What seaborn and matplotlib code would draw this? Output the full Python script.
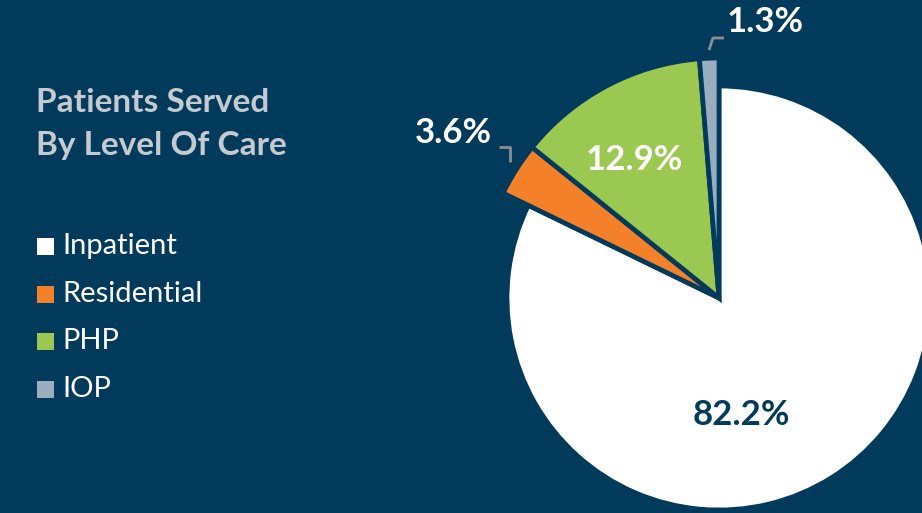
import matplotlib
matplotlib.use("Agg")
import matplotlib.pyplot as plt
import seaborn as sns

# ---- data ----
categories = ["Inpatient", "Residential", "PHP", "IOP"]
shares = [82.2, 3.6, 12.9, 1.3]
pct_labels = ["82.2%", "3.6%", "12.9%", "1.3%"]
title_lines = ["Patients Served", "By Level Of Care"]

BG = "#023a5c"
colors = ["#ffffff", "#f4812a", "#9bc850", "#9aaebf"]

sns.set_theme(style="white", rc={"figure.facecolor": BG, "axes.facecolor": BG,
                                 "savefig.facecolor": BG})
plt.rcParams["font.family"] = ["Lato", "DejaVu Sans"]

W, H = 922, 513
fig = plt.figure(figsize=(W / 100, H / 100), dpi=100)
ax = fig.add_axes([0, 0, 1, 1])
ax.set_facecolor(BG)

cx, cy = 719, H - 298
wedges, _ = ax.pie(shares, colors=colors, startangle=90, counterclock=False,
                   center=(cx, cy), radius=240,
                   wedgeprops=dict(edgecolor=BG, linewidth=3.4))
wedges[0].set_radius(212)

ax.set_xlim(0, W)
ax.set_ylim(0, H)
ax.set_aspect("equal")
ax.axis("off")

# title
ax.text(36, H - 103, title_lines[0], color="#c5cad0", fontsize=24, fontweight="bold",
        va="center", ha="left")
ax.text(36, H - 145, title_lines[1], color="#c5cad0", fontsize=24, fontweight="bold",
        va="center", ha="left")

# legend
leg_y = [246, 294, 341, 389]
for cat, col, y in zip(categories, colors, leg_y):
    ax.add_patch(plt.Rectangle((37, H - y - 8.5), 17, 17, facecolor=col, edgecolor="none"))
    ax.text(62, H - y, cat, color="white", fontsize=21, fontweight="normal",
            va="center", ha="left")

# percentage labels
label_pos = [(741, 415, "#023a5c"), (453, 133, "white"), (634, 160, "white"), (765, 22, "white")]
for lab, (x, y, c) in zip(pct_labels, label_pos):
    ax.text(x, H - y, lab, color=c, fontsize=25, fontweight="bold", ha="center", va="center")

# leader lines
ax.plot([499, 510, 510], [H - 147, H - 147, H - 162], color="#8a8f96", lw=2, solid_capstyle="butt")
ax.plot([709, 713, 724], [H - 50, H - 38, H - 38], color="#8a8f96", lw=2, solid_capstyle="butt")

fig.savefig("out.png", dpi=100, facecolor=BG)
